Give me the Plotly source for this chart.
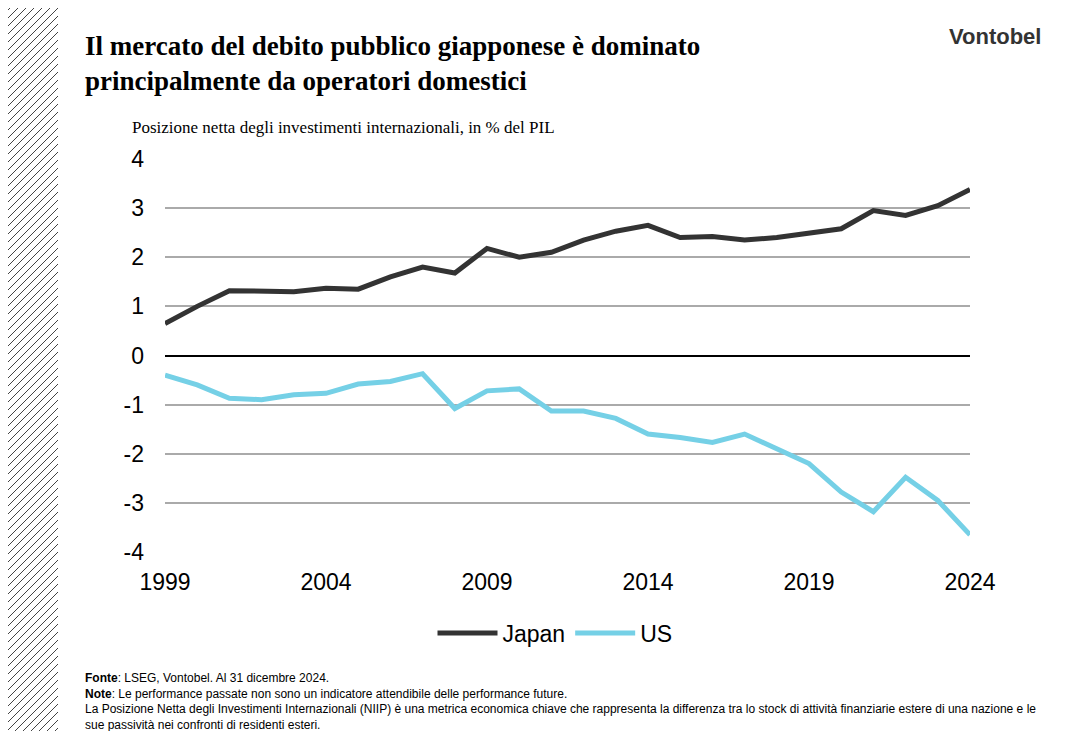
import plotly.graph_objects as go

W, H = 1072, 731
years = list(range(1999, 2025))
japan = [0.65, 1.0, 1.32, 1.3, 1.3, 1.37, 1.35, 1.6, 1.8, 1.68, 2.18, 2.0, 2.1, 2.35,
         2.53, 2.65, 2.4, 2.42, 2.35, 2.4, 2.5, 2.58, 2.95, 2.85, 3.05, 3.38]
us = [-0.4, -0.6, -0.87, -0.9, -0.8, -0.77, -0.58, -0.53, -0.37, -1.08, -0.72, -0.68,
      -1.13, -1.13, -1.28, -1.6, -1.67, -1.77, -1.6, -1.9, -2.2, -2.78, -3.18, -2.48,
      -2.95, -3.65]
tick_years = [1999, 2004, 2009, 2014, 2019, 2024]
y_ticks = [-4, -3, -2, -1, 0, 1, 2, 3, 4]
y_labels = ["-4", "-3", "-2", "-1", "0", "1", "2", "3", "4"]

fig = go.Figure()
fig.add_trace(go.Scatter(x=years, y=japan, mode="lines", name="Japan",
                         line=dict(color="#333333", width=5)))
fig.add_trace(go.Scatter(x=years, y=us, mode="lines", name="US",
                         line=dict(color="#75d0e6", width=5)))

# page has an 8px body margin, so shift screen pixels into figure pixels
OFF = 8
def px(x): return (x - OFF) / W
def py(y): return 1 - (y - OFF) / H

# hatched stripe on the left
shapes = []
for c in range(-80, H + 80, 8):
    shapes.append(dict(type="line", xref="paper", yref="paper",
                       x0=px(-10), y0=py(c + 68), x1=px(58), y1=py(c),
                       line=dict(color="#444444", width=1)))

fig.update_layout(
    width=W, height=H, margin=dict(l=0, r=0, t=0, b=0, autoexpand=False),
    plot_bgcolor="white", paper_bgcolor="white",
    font=dict(family="Arial, Liberation Sans", color="#000"),
    xaxis=dict(domain=[px(165), px(970)], range=[1999, 2024], tickvals=tick_years,
               showgrid=False, zeroline=False, tickfont=dict(size=23), ticks="",
               ticklabelstandoff=14, automargin=False),
    yaxis=dict(domain=[py(552), py(159)], range=[-4, 4], tickvals=y_ticks,
               ticktext=y_labels,
               gridcolor="#aaaaaa", gridwidth=2, zeroline=True, zerolinecolor="#000",
               zerolinewidth=2, tickfont=dict(size=23), ticklabelstandoff=20,
               automargin=False),
    showlegend=True,
    legend=dict(orientation="h", x=px(555), xanchor="center", y=py(633), yanchor="middle",
                font=dict(size=23), itemwidth=60),
    shapes=shapes,
    annotations=[
        dict(text="<b>Il mercato del debito pubblico giapponese è dominato<br>principalmente da operatori domestici</b>",
             xref="paper", yref="paper", x=px(83), y=py(29), xanchor="left", yanchor="top",
             align="left", showarrow=False,
             font=dict(family="Liberation Serif, Times New Roman", size=27, color="#000")),
        dict(text="<b>Vontobel</b>", xref="paper", yref="paper", x=px(1043), y=py(37),
             xanchor="right", yanchor="middle", showarrow=False,
             font=dict(size=22, color="#333333")),
        dict(text="Posizione netta degli investimenti internazionali, in % del PIL",
             xref="paper", yref="paper", x=px(130), y=py(127), xanchor="left",
             yanchor="middle", showarrow=False,
             font=dict(family="Liberation Serif, Times New Roman", size=17, color="#000")),
        dict(text="<b>Fonte</b>: LSEG, Vontobel. Al 31 dicembre 2024.<br>"
                  "<b>Note</b>: Le performance passate non sono un indicatore attendibile delle performance future.<br>"
                  "La Posizione Netta degli Investimenti Internazionali (NIIP) è una metrica economica chiave che rappresenta la differenza tra lo stock di attività finanziarie estere di una nazione e le<br>"
                  "sue passività nei confronti di residenti esteri.",
             xref="paper", yref="paper", x=px(83), y=py(669), xanchor="left", yanchor="top",
             align="left", showarrow=False, font=dict(size=12, color="#000")),
    ],
)

fig.write_html("out.html")
